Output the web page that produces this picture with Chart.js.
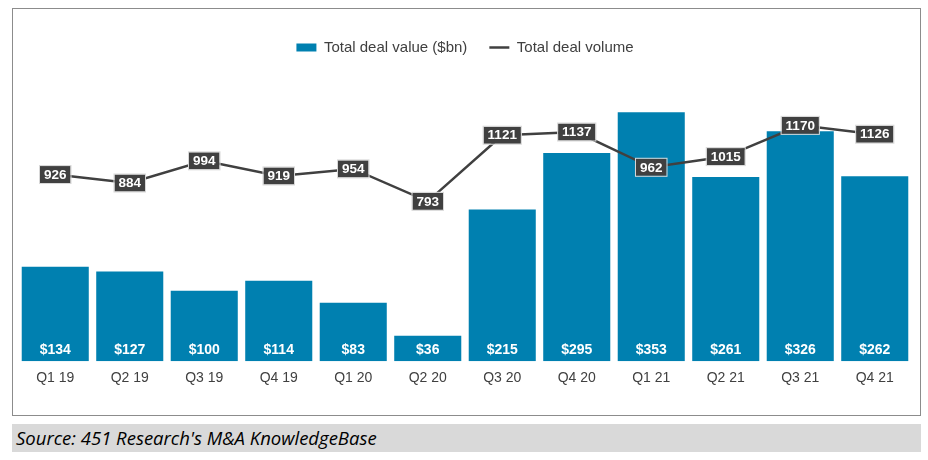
<!DOCTYPE html>
<html>
<head>
<meta charset="utf-8">
<script src="https://cdn.jsdelivr.net/npm/chart.js@4.4.1/dist/chart.umd.min.js"></script>
<style>
  body { margin: 0; background: #fff; width: 928px; height: 460px; position: relative; overflow: hidden; }
  #box { position: absolute; left: 12px; top: 8px; width: 909px; height: 408px; border: 1px solid #8c8c8c; box-sizing: border-box; }
  #box canvas { display: block; }
  #source { position: absolute; left: 12px; top: 424px; width: 909px; height: 28px; background: #d9d9d9;
    font-family: 'Open Sans', Lato, sans-serif; font-style: italic; font-size: 18.5px; line-height: 28px;
    color: #000; padding-left: 4px; box-sizing: border-box; }
</style>
</head>
<body>
<div id="box"><canvas id="chart" width="907" height="406"></canvas></div>
<div id="source">Source: 451 Research's M&amp;A KnowledgeBase</div>
<script>
// ========== Data ==========
const quarters = ['Q1 19', 'Q2 19', 'Q3 19', 'Q4 19', 'Q1 20', 'Q2 20',
                  'Q3 20', 'Q4 20', 'Q1 21', 'Q2 21', 'Q3 21', 'Q4 21'];
const dealValue = [134, 127, 100, 114, 83, 36, 215, 295, 353, 261, 326, 262];
const dealVolume = [926, 884, 994, 919, 954, 793, 1121, 1137, 962, 1015, 1170, 1126];

const BLUE = '#0080b0';
const DARK = '#404040';

Chart.defaults.font.family = "'Liberation Sans', Arial, sans-serif";
Chart.defaults.color = DARK;

// ========== Label plugin ==========
const labelPlugin = {
  id: 'valueLabels',
  afterDatasetsDraw(chart) {
    const ctx = chart.ctx;
    ctx.save();
    ctx.textAlign = 'center';
    ctx.textBaseline = 'middle';

    // bar labels, white at the bottom of each bar
    const barMeta = chart.getDatasetMeta(0);
    ctx.font = "bold 14px 'Liberation Sans', Arial, sans-serif";
    ctx.fillStyle = '#fff';
    barMeta.data.forEach((bar, i) => {
      ctx.fillText('$' + dealValue[i], bar.x, bar.base - 11);
    });

    // line labels in dark boxes
    const lineMeta = chart.getDatasetMeta(1);
    ctx.font = "bold 13.5px 'Liberation Sans', Arial, sans-serif";
    lineMeta.data.forEach((pt, i) => {
      const txt = String(dealVolume[i]);
      const w = ctx.measureText(txt).width + 8;
      const h = 17;
      ctx.fillStyle = DARK;
      ctx.fillRect(pt.x - w / 2, pt.y - h / 2, w, h);
      ctx.strokeStyle = '#d8d8d8';
      ctx.lineWidth = 1;
      ctx.strokeRect(pt.x - w / 2 - 0.5, pt.y - h / 2 - 0.5, w + 1, h + 1);
      ctx.fillStyle = '#fff';
      ctx.fillText(txt, pt.x, pt.y + 0.5);
    });
    ctx.restore();
  }
};

// extra room under the legend
const legendMargin = {
  id: 'legendMargin',
  beforeInit(chart) {
    const fit = chart.legend.fit;
    chart.legend.fit = function () {
      fit.bind(chart.legend)();
      this.height += 14;
    };
  }
};

// ========== Chart ==========
new Chart(document.getElementById('chart'), {
  type: 'bar',
  data: {
    labels: quarters,
    datasets: [
      {
        label: 'Total deal value ($bn)',
        data: dealValue,
        backgroundColor: BLUE,
        borderColor: BLUE,
        borderWidth: 0,
        pointStyle: 'rect',
        categoryPercentage: 1,
        barPercentage: 0.9,
        yAxisID: 'y',
        order: 1
      },
      {
        type: 'line',
        label: 'Total deal volume',
        data: dealVolume,
        borderColor: DARK,
        backgroundColor: DARK,
        borderWidth: 2.5,
        pointRadius: 0,
        pointStyle: 'line',
        tension: 0,
        yAxisID: 'y2',
        order: 0
      }
    ]
  },
  options: {
    responsive: false,
    animation: false,
    layout: { padding: { left: 5, right: 8, top: 9, bottom: 27 } },
    plugins: {
      legend: {
        position: 'top',
        labels: {
          usePointStyle: true,
          pointStyleWidth: 20,
          boxHeight: 8,
          padding: 22,
          font: { size: 15 },
          color: DARK,
          sort: (a, b) => a.datasetIndex - b.datasetIndex
        }
      },
      tooltip: { enabled: false }
    },
    scales: {
      x: {
        grid: { display: false },
        border: { display: false },
        ticks: { padding: 1, font: { size: 14 }, color: DARK }
      },
      y: { display: false, min: 0, max: 400 },
      y2: { display: false, min: 0, max: 1400 }
    }
  },
  plugins: [labelPlugin, legendMargin]
});
</script>
</body>
</html>
